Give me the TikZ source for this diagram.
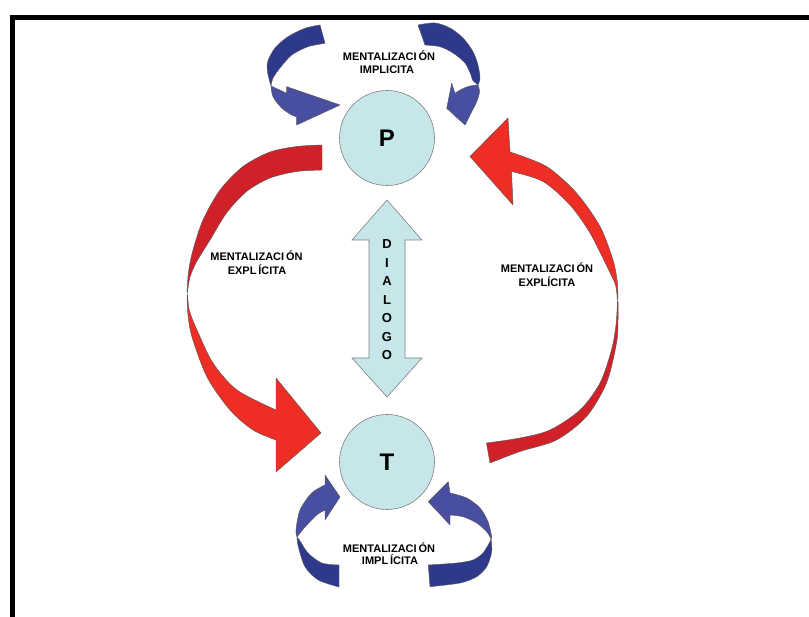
\documentclass[tikz,border=0pt]{standalone}
\usepackage{fontspec}
\setmainfont{Liberation Sans}
\definecolor{redA}{RGB}{238,46,36}
\definecolor{redB}{RGB}{208,33,41}
\definecolor{blueA}{RGB}{72,78,160}
\definecolor{blueB}{RGB}{47,57,140}
\definecolor{cyanfill}{RGB}{199,230,233}
\begin{document}
\begin{tikzpicture}[x=1pt,y=-1pt,
  lbl/.style={font=\fontsize{11}{13}\selectfont\bfseries, inner sep=0pt, anchor=base},
  dlet/.style={font=\fontsize{13}{13}\selectfont\bfseries, inner sep=0pt, anchor=base},
  ring/.style={circle, draw=black!50, line width=0.6pt, fill=cyanfill, minimum size=95pt, inner sep=0pt, font=\fontsize{24}{24}\selectfont\bfseries},
  rib/.style={draw=black!65, line width=0.45pt, line join=round},
]
\useasboundingbox (0,0) rectangle (809,617);
% frame
\draw[line width=5pt] (12,625) -- (12,18) -- (815,18);

% circles
\node[ring] (P) at (387,138) {P};
\node[ring] (T) at (387,462) {T};

% double arrow DIALOGO
\path[draw=black!50, line width=0.6pt, fill=cyanfill, line join=miter]
  (387,200) -- (422,240) -- (405,240) -- (405,358) -- (422,358) -- (387,397)
  -- (352,358) -- (369,358) -- (369,240) -- (352,240) -- cycle;
\foreach \l [count=\i] in {D,I,A,L,O,G,O}{
  \node[dlet] (d\i) at (387,{248.6+18.5*(\i-1)}) {\l};
}

% left red arrow
\path[rib, fill=redB] plot[smooth] coordinates {(322,145) (297,146.5) (270,152) (243,166.5) (220,190) (203,220) (193,250) (188.5,272) (187,293)}
  -- plot[smooth] coordinates {(187.5,292) (190,277) (196.5,262) (210,240) (226.5,213) (246.5,191.5) (270,178) (296.5,171.5) (322,170)} -- cycle;
\path[rib, fill=redA] plot[smooth] coordinates {(187,294) (188,315) (192,337) (207,377) (230,410) (253,430) (276,440)}
  -- (276,472) -- (321,433) -- (276,378) -- (276,410)
  -- plot[smooth] coordinates {(276,410) (237,390) (213,363) (197,330) (189.5,311) (187.5,295)} -- cycle;

% right red arrow
\path[rib, fill=redA] (470,156.5) -- (508,118) -- (510,152)
  -- plot[smooth] coordinates {(510,152) (546.5,166.5) (576.5,193) (600,226.5) (613,260) (617.3,282) (618,300)}
  -- plot[smooth] coordinates {(617.3,300) (615.5,285) (607,266.5) (590,233) (570,205) (543,181.5) (511.5,171.5)}
  -- (513,205) -- cycle;
\path[rib, fill=redB] plot[smooth] coordinates {(618,301) (618,320) (616.5,343) (606.5,383) (586.5,416.5) (556.5,440) (520,451.5) (490,463)}
  -- (486.5,443)
  -- plot[smooth] coordinates {(486.5,443) (520,438) (550,430) (580,410) (600,383) (611.5,350) (616,325) (617.5,301)} -- cycle;

% top-left blue arrow
\path[rib, fill=blueB] plot[smooth] coordinates {(320,25) (305,28.3) (288,36.7) (275,48) (267.7,61.7) (267.7,73) (271,86)}
  -- plot[smooth] coordinates {(271,86) (273,78) (280,68) (291.7,55) (308,46.7) (325,43.3)} -- cycle;
\path[rib, fill=blueA] plot[smooth] coordinates {(271,86) (273,96.7) (281.7,108) (291.7,115) (296.7,116.7)}
  -- (296.7,125) -- (340,105) -- (286.7,86.7) -- (286.7,93.3) -- cycle;

% top-right blue arrow
\path[rib, fill=blueB] plot[smooth] coordinates {(418,25) (435,23) (450,28) (463,38) (473,51.7) (478,65) (480,78) (478,85)}
  -- plot[smooth] coordinates {(478,85) (472.5,80) (471,75) (465,63) (453,53) (440,46.7) (425,45)} -- cycle;
\path[rib, fill=blueA] plot[smooth] coordinates {(478,85) (470,86) (462,89) (455,93.3)}
  -- (451.7,83.3) -- (446.7,108.3) -- (465,125)
  -- plot[smooth] coordinates {(465,125) (471.7,111.7) (476.7,101.7) (479.5,92) (478,85)} -- cycle;

% bottom-left blue arrow
\path[rib, fill=blueA] (325,485) -- (325,475) -- (340,497) -- (325,520) -- (325,510)
  -- plot[smooth] coordinates {(325,510) (316.7,515) (305,527) (297,537)}
  -- plot[smooth] coordinates {(297,537) (296,530) (300,510) (311.7,493) (325,485)} -- cycle;
\path[rib, fill=blueB] plot[smooth] coordinates {(297,537) (298.3,546.7) (305,566.7) (318.3,580) (339,587)}
  -- (339,565)
  -- plot[smooth] coordinates {(339,565) (321.7,563) (308,553) (300,541) (297,537)} -- cycle;

% bottom-right blue arrow
\path[rib, fill=blueA] (450,493) -- (448.3,481.7) -- (428.3,501.7) -- (450,525) -- (450,515)
  -- plot[smooth] coordinates {(450,515) (463,516.7) (476.7,523) (486.7,531.7) (491,539)}
  -- plot[smooth] coordinates {(491,539) (491.7,536.7) (488,521.7) (480,508) (466.7,498) (450,493)} -- cycle;
\path[rib, fill=blueB] plot[smooth] coordinates {(491,539) (491.7,551.7) (486.7,566.7) (476.7,576.7) (460,583) (430,586.7)}
  -- (428.3,565)
  -- plot[smooth] coordinates {(428.3,565) (456.7,563) (473,560) (483,553) (490,541.7) (491,539)} -- cycle;

% labels
\node[lbl] (ta) at (389,61) {MENTALIZACI\,ÓN};
\node[lbl] (tb) at (387,73.5) {IMPLICITA};
\node[lbl] (la) at (256.5,261) {MENTALIZACI\,ÓN};
\node[lbl] (lb) at (257,275) {EXPL\,ÍCITA};
\node[lbl] (ra) at (547,273) {MENTALIZACI\,ÓN};
\node[lbl] (rb) at (547,287) {EXPLÍCITA};
\node[lbl] (ba) at (389,552) {MENTALIZACI\,ÓN};
\node[lbl] (bb) at (390,564) {IMPL\,ÍCITA};
\end{tikzpicture}
\end{document}
